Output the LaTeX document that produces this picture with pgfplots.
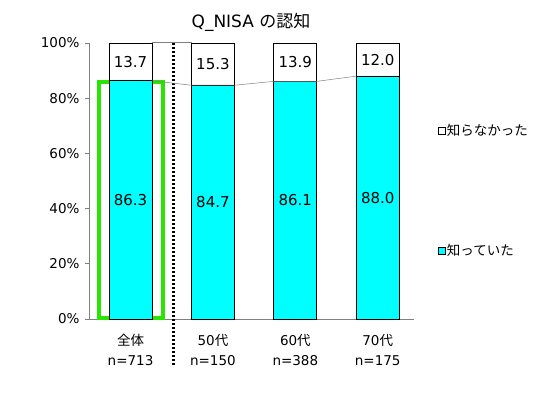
\documentclass[border=0pt]{standalone}
\usepackage{fontspec}
\setmainfont{DejaVu Sans}
\newfontfamily\jp{Noto Sans CJK JP}
\usepackage{pgfplots}
\pgfplotsset{compat=1.18}
\definecolor{barcyan}{RGB}{0,255,255}
\definecolor{hl}{RGB}{40,230,0}
\begin{document}
\begin{tikzpicture}
\path[use as bounding box] (-89pt,-75pt) rectangle (463pt,319pt);
\begin{axis}[
  at={(0,0)}, anchor=south west,
  scale only axis, width=325pt, height=276pt,
  xmin=-0.504, xmax=3.44, ymin=0, ymax=100,
  ybar stacked, bar width=43pt,
  axis x line*=bottom, axis y line*=left,
  axis line style={draw=gray, line width=0.8pt},
  xtick={0,1,2,3},
  xticklabels={{{\jp 全体}\\n=713},{50{\jp 代}\\n=150},{60{\jp 代}\\n=388},{70{\jp 代}\\n=175}},
  xticklabel style={align=center, font=\fontsize{13.5}{20}\selectfont, yshift=-8pt},
  x tick style={draw=none},
  ytick={0,20,40,60,80,100},
  yticklabels={0\%,20\%,40\%,60\%,80\%,100\%},
  yticklabel style={font=\fontsize{13.5}{15}\selectfont, xshift=-2pt},
  y tick style={draw=gray, line width=0.8pt},
  tick align=outside, major tick length=4pt,
  clip=false,
  reverse legend,
  legend style={draw=none, fill=none, at={(1.065,0.717)}, anchor=north west,
    row sep=105pt, font=\jp\fontsize{13.5}{16}\selectfont,
    nodes={inner sep=1pt}, cells={anchor=west}},
  nodes near coords={\pgfplotspointmeta},
  point meta=explicit symbolic,
  every node near coord/.append style={anchor=center,
    font=\fontsize{15}{17}\selectfont, text=black},
]
\addplot[gray, line width=0.5pt, sharp plot, stack plots=false, forget plot, mark=none, nodes near coords={}]
  coordinates {(0.26,86.3) (0.74,84.7) (1.26,84.7) (1.74,86.1) (2.26,86.1) (2.74,88.0)};
\addplot[gray, line width=1pt, sharp plot, stack plots=false, forget plot, mark=none, nodes near coords={}]
  coordinates {(0.26,100) (0.74,100)};
\addplot[fill=barcyan, draw=black, line width=0.7pt,
  legend image code/.code={\draw[fill=barcyan, draw=black, line width=0.6pt] (0pt,-3.5pt) rectangle (7pt,3.5pt);}]
  coordinates {(0,86.3) [86.3] (1,84.7) [84.7] (2,86.1) [86.1] (3,88.0) [88.0]};
\addplot[fill=white, draw=black, line width=0.7pt,
  legend image code/.code={\draw[fill=white, draw=black, line width=0.6pt] (0pt,-3.5pt) rectangle (7pt,3.5pt);}]
  coordinates {(0,13.7) [13.7] (1,15.3) [15.3] (2,13.9) [13.9] (3,12.0) [12.0]};
\legend{知っていた,知らなかった}
\draw[hl, line width=4pt] (axis cs:-0.382,0.5) rectangle (axis cs:0.394,85.9);
\draw[black, line width=3pt, dash pattern=on 2.2pt off 1.8pt] (axis cs:0.516,100) -- (axis cs:0.516,-16.7);
\end{axis}
\node[anchor=base, font=\fontsize{17}{20}\selectfont] at (162pt,291pt) {Q\_NISA {\jp の認知}};
\end{tikzpicture}
\end{document}
